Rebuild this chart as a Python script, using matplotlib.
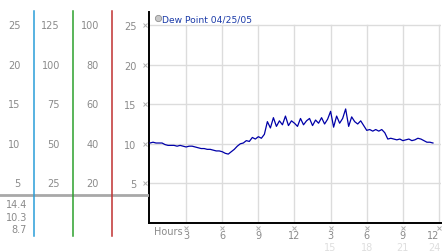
import matplotlib
matplotlib.use("Agg")
import matplotlib.pyplot as plt
from matplotlib.lines import Line2D
import numpy as np

# ---- data ----
step_hours = 0.25
dew_point = [
    10.1, 10.2, 10.1, 10.1,
    10.1, 9.9, 9.8, 9.8,
    9.8, 9.7, 9.8, 9.7,
    9.6, 9.7, 9.7, 9.6,
    9.5, 9.4, 9.4, 9.3,
    9.3, 9.2, 9.1, 9.1,
    9.0, 8.8, 8.7, 9.0,
    9.3, 9.7, 10.0, 10.1,
    10.4, 10.3, 10.8, 10.6,
    10.9, 10.7, 11.2, 12.8,
    12.0, 13.3, 12.2, 12.9,
    12.4, 13.5, 12.3, 12.9,
    12.6, 12.2, 13.2, 12.4,
    12.9, 13.2, 12.3, 13.0,
    12.6, 13.3, 12.5, 13.1,
    14.1, 12.1, 13.5, 12.6,
    13.2, 14.4, 12.2, 13.4,
    12.8, 12.5, 12.9, 12.3,
    11.7, 11.8, 11.6, 11.8,
    11.6, 11.8, 11.4, 10.6,
    10.7, 10.6, 10.5, 10.6,
    10.4, 10.5, 10.6, 10.4,
    10.5, 10.7, 10.6, 10.4,
    10.2, 10.2, 10.1,
]
hours = np.arange(len(dew_point)) * step_hours

y_ticks = [5, 10, 15, 20, 25]
col1_labels = ["5", "10", "15", "20", "25"]
col2_labels = ["25", "50", "75", "100", "125"]
col3_labels = ["20", "40", "60", "80", "100"]
stats_labels = ["14.4", "10.3", "8.7"]
x_ticks = [3, 6, 9, 12, 15, 18, 21, 24]
x_labels = ["3", "6", "9", "12", "3", "6", "9", "12"]
x_labels2 = ["15", "18", "21", "24"]
x_ticks2 = [15, 18, 21, 24]
legend_label = "Dew Point 04/25/05"

W, H = 442, 253
fig = plt.figure(figsize=(W / 100, H / 100), dpi=100)

def fx(px):
    return px / W

def fy(py):
    return 1 - py / H

# main axes: pixel box x 149..441, y 13..224
L, R, T, B = 149, 441, 13, 224
ax = fig.add_axes([fx(L), fy(B), fx(R - L), (B - T) / H])
px_per_h = 12.04
xmin = -(150 - L) / px_per_h
ax.set_xlim(xmin, xmin + (R - L) / px_per_h)
px_per_u = 7.92
ax.set_ylim(0, (B - T) / px_per_u)

grid_c = "#dcdcdc"
for yv in y_ticks:
    ax.axhline(yv, color=grid_c, lw=1, zorder=0)
ytop_frac = 25 / ax.get_ylim()[1]
for xv in x_ticks:
    ax.axvline(xv, ymin=0, ymax=ytop_frac, color=grid_c, lw=1, zorder=0)

ax.plot(hours, dew_point, color="#0000a8", lw=0.9, zorder=3)

for s in ["top", "right"]:
    ax.spines[s].set_visible(False)
ax.spines["left"].set_color("black")
ax.spines["bottom"].set_color("black")
ax.spines["left"].set_linewidth(1.4)
ax.spines["bottom"].set_linewidth(1.4)

lab_c = "#8a8a8a"
fs = 7
ax.set_yticks(y_ticks)
ax.set_yticklabels(col1_labels, color=lab_c, fontsize=fs)
ax.tick_params(axis="y", length=0, pad=9)
ax.set_xticks(x_ticks)
ax.set_xticklabels(x_labels, color=lab_c, fontsize=fs)
ax.tick_params(axis="x", length=0, pad=5)
last = ax.get_xticklabels()[-1]
last.set_horizontalalignment("right")
last.set_x(x_ticks[-1] + 2 / px_per_h)

# tiny tick glyphs
ax.plot([xmin - 4 / px_per_h] * len(y_ticks), y_ticks, ls="none", marker="x",
        ms=2.2, mew=0.7, color="#b0b0b0", clip_on=False)
ax.plot(x_ticks, [-5 / px_per_u] * len(x_ticks), ls="none", marker="x",
        ms=2.2, mew=0.7, color="#b0b0b0", clip_on=False)

for i, (xv, lab) in enumerate(zip(x_ticks2, x_labels2)):
    is_last = i == len(x_ticks2) - 1
    ax.text(xv + (2 / px_per_h if is_last else 0), -(248.5 - B) / px_per_u, lab,
            ha="right" if is_last else "center", va="center",
            color="#dedede", fontsize=fs, clip_on=False)

ax.text(xmin + (154 - L) / px_per_h, -(232 - B) / px_per_u, "Hours",
        ha="left", va="center", color=lab_c, fontsize=fs, clip_on=False)

# legend
handle = Line2D([], [], ls="none", marker="o", ms=4.5, markerfacecolor="#c8c8c8",
                markeredgecolor="#909090", mew=0.6)
leg = ax.legend([handle], [legend_label], loc="center left",
                bbox_to_anchor=(fx(155), fy(20)), bbox_transform=fig.transFigure,
                frameon=False, fontsize=6.6, handlelength=0.6, handletextpad=0.2,
                borderpad=0, borderaxespad=0, labelcolor="#1a3aa8")

# left panel
lax = fig.add_axes([0, fy(B), fx(L), (B - T) / H])
lax.set_xlim(0, L)
lax.set_ylim(ax.get_ylim())
lax.axis("off")
for yv, a, b, c in zip(y_ticks, col1_labels, col2_labels, col3_labels):
    lax.text(20.5, yv, a, ha="right", va="center", color=lab_c, fontsize=fs)
    lax.text(60, yv, b, ha="right", va="center", color=lab_c, fontsize=fs)
    lax.text(99, yv, c, ha="right", va="center", color=lab_c, fontsize=fs)

lax.axhline((B - 196) / px_per_u, color="#a8a8a8", lw=2, zorder=2)
vmin = -(237 - B) / (B - T)
vmax = (B - 12) / (B - T)
for xp, col in [(33.5, "#2a9ed8"), (72.5, "#2ca02c"), (111.5, "#c03030")]:
    lax.axvline(xp, ymin=vmin, ymax=vmax, color=col, lw=1.1, clip_on=False, zorder=3)

for py, lab in zip([205, 218, 230], stats_labels):
    lax.text(27, -(py - B) / px_per_u, lab, ha="right", va="center",
             color=lab_c, fontsize=fs, clip_on=False)

fig.savefig("out.png", dpi=100)
